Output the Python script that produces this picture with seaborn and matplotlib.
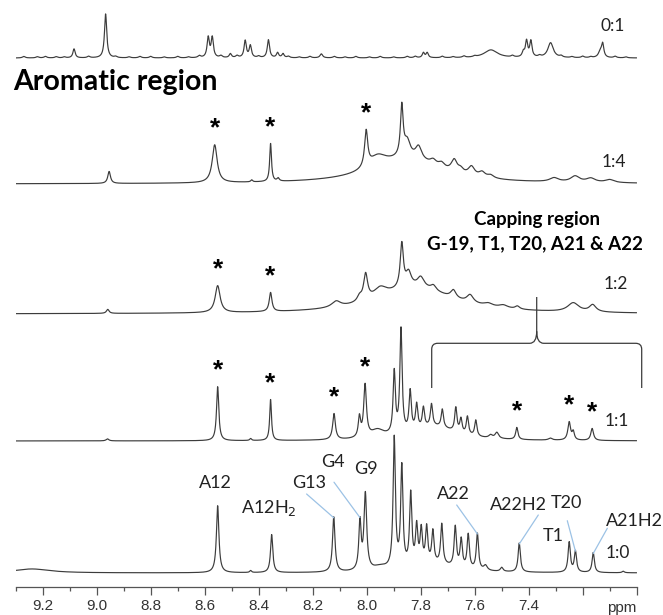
import numpy as np
import matplotlib
matplotlib.use("Agg")
import matplotlib.pyplot as plt
from matplotlib.path import Path
from matplotlib.patches import PathPatch
import seaborn as sns

# ---------------- data ----------------
ratios = ["0:1", "1:4", "1:2", "1:1", "1:0"]

# peak tables: chemical shift (ppm), intensity, half width (ppm)
p01_ppm = [9.084, 8.967, 8.587, 8.572, 8.505, 8.450, 8.431, 8.364, 8.330, 8.310, 8.168,
           7.790, 7.776, 7.540, 7.420, 7.408, 7.392, 7.319, 7.135, 7.126,
           9.27, 9.22, 9.19, 9.15, 9.12, 9.03, 8.93, 8.88, 8.84, 8.80, 8.75, 8.70,
           8.66, 8.62, 8.54, 8.48, 8.40, 8.29, 8.25, 8.21, 8.12, 8.08, 8.04, 7.99,
           7.95, 7.90, 7.85, 7.82, 7.72, 7.68, 7.64, 7.60, 7.46, 7.36, 7.28, 7.24,
           7.20, 7.17, 7.08, 7.04]
p01_int = [9, 44, 20, 20, 4, 17, 12, 18, 5, 4, 4,
           5, 5, 8, 5, 16, 16, 15, 6, 13,
           1.5, 1.2, 1.5, 1.2, 1.0, 1.5, 1.2, 1.0, 1.5, 1.5, 1.0, 1.5,
           1.0, 2.0, 2.0, 2.0, 1.5, 1.5, 1.0, 1.5, 1.5, 1.0, 1.5, 1.0,
           1.5, 1.0, 1.5, 1.5, 1.5, 1.0, 1.5, 1.0, 1.5, 1.5, 1.5, 1.0,
           1.5, 1.0, 1.5, 1.0]
p01_hw = [0.005, 0.005, 0.005, 0.005, 0.005, 0.005, 0.005, 0.005, 0.005, 0.005, 0.006,
          0.005, 0.005, 0.03, 0.005, 0.005, 0.005, 0.012, 0.008, 0.005] + [0.006] * 40

p14_ppm = [8.954, 8.563, 8.426, 8.356, 8.328, 8.002, 7.960, 7.870, 7.850, 7.808,
           7.754, 7.723, 7.676, 7.652, 7.612, 7.573, 7.541, 7.306, 7.228, 7.17, 7.10, 7.85]
p14_int = [12, 38, 2, 38, 3, 36, 12, 50, 16, 13, 5, 5, 12, 4, 9, 5, 3, 4, 6, 4, 3, 24]
p14_hw = [0.006, 0.011, 0.004, 0.004, 0.005, 0.007, 0.04, 0.006, 0.014, 0.014,
          0.014, 0.014, 0.013, 0.012, 0.014, 0.014, 0.014, 0.02, 0.02, 0.02, 0.02, 0.16]

p12_ppm = [8.959, 8.552, 8.356, 8.113, 8.027, 8.004, 7.950, 7.870, 7.845, 7.800,
           7.753, 7.679, 7.617, 7.550, 7.494, 7.442, 7.235, 7.163, 7.82]
p12_int = [4, 27, 19, 6, 5, 26, 10, 44, 14, 10, 5, 8, 8, 3, 3, 3, 9, 7, 26]
p12_hw = [0.006, 0.011, 0.006, 0.02, 0.01, 0.009, 0.03, 0.007, 0.012, 0.015,
          0.012, 0.012, 0.015, 0.02, 0.02, 0.01, 0.025, 0.015, 0.17]

p11_ppm = [8.960, 8.552, 8.430, 8.356, 8.121, 8.027, 8.006, 7.960, 7.898, 7.873,
           7.839, 7.815, 7.790, 7.760, 7.720, 7.670, 7.651, 7.627, 7.596, 7.541,
           7.518, 7.444, 7.320, 7.250, 7.235, 7.165, 7.75]
p11_int = [2, 54, 2, 41, 26, 20, 52, 8, 62, 104, 40, 25, 20, 22, 18, 24, 14, 18, 16, 3,
           6, 12, 2, 18, 8, 12, 14]
p11_hw = [0.006, 0.005, 0.004, 0.004, 0.006, 0.005, 0.006, 0.03, 0.005, 0.005,
          0.005, 0.005, 0.005, 0.005, 0.005, 0.005, 0.005, 0.005, 0.005, 0.008,
          0.008, 0.005, 0.008, 0.006, 0.005, 0.006, 0.1]

p10_ppm = [9.24, 8.552, 8.430, 8.352, 8.122, 8.025, 8.005, 7.950, 7.898, 7.870,
           7.837, 7.815, 7.798, 7.778, 7.755, 7.722, 7.672, 7.650, 7.624, 7.590,
           7.560, 7.500, 7.435, 7.250, 7.227, 7.161, 7.050, 7.75]
p10_int = [4, 67, 2, 38, 55, 48, 76, 4, 130, 100, 72, 38, 34, 36, 32, 40, 40, 28, 34, 36,
           5, 4, 29, 30, 21, 20, 1.5, 8]
p10_hw = [0.08, 0.0055, 0.004, 0.005, 0.0055, 0.005, 0.006, 0.03, 0.005, 0.005,
          0.005, 0.005, 0.005, 0.005, 0.005, 0.005, 0.005, 0.005, 0.005, 0.005,
          0.008, 0.006, 0.005, 0.005, 0.005, 0.005, 0.005, 0.1]

peak_tables = [(p01_ppm, p01_int, p01_hw), (p14_ppm, p14_int, p14_hw),
               (p12_ppm, p12_int, p12_hw), (p11_ppm, p11_int, p11_hw),
               (p10_ppm, p10_int, p10_hw)]

# starred (unbound) signals per titration point
stars_14 = [8.563, 8.356, 8.002]
stars_12 = [8.552, 8.356]
stars_11 = [8.552, 8.356, 8.121, 8.006, 7.444, 7.250, 7.165]

# assignments for the free DNA spectrum
assign_names = ["A12", "A12H$_2$", "G13", "G4", "G9", "A22", "A22H2", "T1", "T20", "A21H2"]
assign_ppm = [8.552, 8.352, 8.122, 8.025, 8.005, 7.590, 7.435, 7.250, 7.227, 7.161]

tick_values = [9.2, 9.0, 8.8, 8.6, 8.4, 8.2, 8.0, 7.8, 7.6, 7.4]

# ---------------- layout ----------------
W, H = 663, 615
AX_L, AX_R, AX_B = 15.7, 636.7, 587.0   # pixel frame of the ppm axis
X_LEFT, X_RIGHT = 9.3, 7.0
baselines = [529, 403, 273, 146, 14]     # trace offsets above the axis line

LINE = "#3c3c3c"
BLUE = "#9cc2e5"

sns.set_theme(style="white")
plt.rcParams["font.family"] = ["Lato", "DejaVu Sans"]

fig = plt.figure(figsize=(W / 100, H / 100), dpi=100)
ax = fig.add_axes([AX_L / W, (H - AX_B) / H, (AX_R - AX_L) / W, AX_B / H])


def px2ppm(xp):
    return X_LEFT - (xp - AX_L) / (AX_R - AX_L) * (X_LEFT - X_RIGHT)


def py2h(yp):
    return AX_B - yp


grid = np.linspace(X_LEFT, X_RIGHT, 4601)


def lorentz_sum(centers, heights, widths):
    out = np.zeros_like(grid)
    for c, h, w in zip(centers, heights, widths):
        out += h * w ** 2 / ((grid - c) ** 2 + w ** 2)
    return out


traces = []
for (pp, ii, ww), base in zip(peak_tables, baselines):
    y = base + lorentz_sum(pp, ii, ww)
    traces.append(y)
    sns.lineplot(x=grid, y=y, ax=ax, color=LINE, linewidth=0.85,
                 estimator=None, sort=False, errorbar=None)


def trace_at(k, ppm):
    return np.interp(-ppm, -grid, traces[k])


ax.set_xlim(X_LEFT, X_RIGHT)
ax.set_ylim(0, AX_B)
ax.set_xlabel("")
ax.set_ylabel("")
for s in ["left", "top", "right"]:
    ax.spines[s].set_visible(False)
ax.spines["bottom"].set_color("#555555")
ax.spines["bottom"].set_linewidth(0.9)
ax.set_yticks([])
ax.set_xticks(tick_values + [7.2, 7.0])
ax.set_xticklabels([f"{v:.1f}" for v in tick_values] + ["", ""])
ax.set_xticks(np.round(np.arange(9.3, 6.99, -0.2), 1), minor=True)
ax.tick_params(axis="x", which="major", direction="out", length=5.5, width=0.9,
               color="#555555", labelsize=11, labelcolor="#333333", pad=3,
               bottom=True)
ax.tick_params(axis="x", which="minor", direction="out", length=3, width=0.9,
               color="#555555", bottom=True)
for lab in ax.get_xticklabels():
    lab.set_fontfamily(["Liberation Sans", "DejaVu Sans"])
ax.text(X_RIGHT, -20.7, "ppm", ha="right", va="center", fontsize=11,
        color="#333333", family=["Liberation Sans", "DejaVu Sans"], clip_on=False)

# ratio labels
ratio_pos = [(613, 26), (614, 162), (616, 284), (617, 421), (617.5, 552.5)]
for txt, (xp, yp) in zip(ratios, ratio_pos):
    ax.text(px2ppm(xp), py2h(yp), txt, ha="center", va="center", fontsize=12.5,
            color="#222222", clip_on=False)

# titles
ax.text(px2ppm(13), py2h(90), "Aromatic region", ha="left", va="baseline",
        fontsize=20.5, fontweight="bold", color="black", clip_on=False)
ax.text(px2ppm(537), py2h(220), "Capping region", ha="center", va="center",
        fontsize=13.5, fontweight="bold", color="black", clip_on=False)
ax.text(px2ppm(535), py2h(244), "G-19, T1, T20, A21 & A22", ha="center", va="center",
        fontsize=13.5, fontweight="bold", color="black", clip_on=False)

# asterisks over the starred signals
for k, stars in [(1, stars_14), (2, stars_12), (3, stars_11)]:
    for p in stars:
        ax.text(p, trace_at(k, p) + 4, "*", ha="center", va="bottom", fontsize=19,
                fontweight="bold", color="black", family=["Liberation Sans"])

# assignment labels with leader lines
label_pos = {"A12": (215.6, 483.5), "A12H$_2$": (268.5, 508), "G13": (308.7, 483.5),
             "G4": (333, 461.8), "G9": (365.7, 468.6), "A22": (453, 494),
             "A22H2": (518, 505), "T1": (553, 536), "T20": (566, 502.5),
             "A21H2": (634, 521)}
leaders = {"G13": (306.6, 494), "G4": (334, 482.2), "A22": (456.7, 505),
           "A22H2": (538.3, 515), "T20": (567.3, 520.7), "A21H2": (607.3, 528.3)}
for name, p in zip(assign_names, assign_ppm):
    xp, yp = label_pos[name]
    ax.text(px2ppm(xp), py2h(yp), name, ha="center", va="center", fontsize=13,
            color="#222222", clip_on=False)
    if name in leaders:
        lx, ly = leaders[name]
        top = trace_at(4, p)
        ax.plot([px2ppm(lx), p], [py2h(ly), top - 1], color=BLUE, lw=0.9)

# bracket over the capping region of the 1:1 spectrum
bl, br, bs = px2ppm(431.7), px2ppm(641.7), px2ppm(536.7)
yb, yh, ys = py2h(388), py2h(343.3), py2h(297)
dx = (X_LEFT - X_RIGHT) / (AX_R - AX_L)
verts = [(bl, yb), (bl, yh - 6), (bl, yh), (bl - 6 * dx, yh),
         (bs + 7 * dx, yh), (bs, yh), (bs, yh + 12), (bs, ys),
         (bs, yh + 12), (bs, yh), (bs - 7 * dx, yh),
         (br + 6 * dx, yh), (br, yh), (br, yh - 6), (br, yb)]
codes = [Path.MOVETO, Path.LINETO, Path.CURVE3, Path.CURVE3,
         Path.LINETO, Path.CURVE3, Path.CURVE3, Path.LINETO,
         Path.MOVETO, Path.CURVE3, Path.CURVE3,
         Path.LINETO, Path.CURVE3, Path.CURVE3, Path.LINETO]
ax.add_patch(PathPatch(Path(verts, codes), facecolor="none", edgecolor=LINE,
                       lw=0.9, clip_on=False))

fig.savefig("out.png", dpi=100)
